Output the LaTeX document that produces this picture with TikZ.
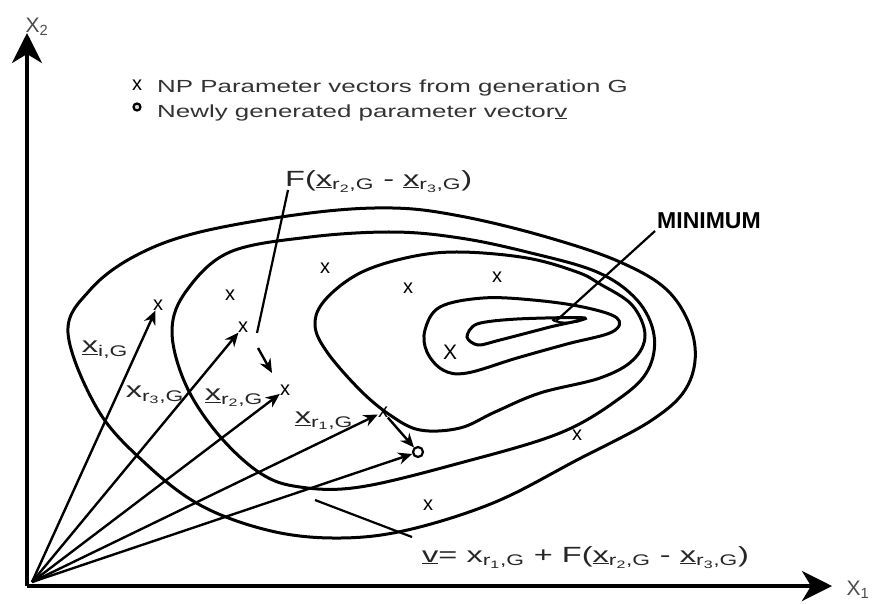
\documentclass[tikz,border=0pt]{standalone}
\usepackage{fontspec}
\setmainfont{Liberation Sans}
\usetikzlibrary{arrows.meta}

\newcommand{\wide}[1]{\scalebox{1.48}[1]{#1}}
\newcommand{\xr}[1]{x\textsubscript{r\textsubscript{#1},G}}
\newcommand{\uxr}[1]{\underline{x}\textsubscript{r\textsubscript{#1},G}}

\begin{document}
\begin{tikzpicture}[x=1pt,y=-1pt,
    axis/.style={line width=4pt,-{Stealth[length=30pt,width=30pt,inset=9pt]}},
    contour/.style={line width=3pt},
    vec/.style={line width=2.4pt,-{Stealth[length=14pt,width=12pt]}},
    lead/.style={line width=2.2pt},
    xmark/.style={inner sep=0pt,font=\fontsize{20}{20}\selectfont},
    newpt/.style={circle,draw,line width=2.2pt,inner sep=0pt,minimum size=10pt},
    lbl/.style={inner sep=0pt,text=black!85,font=\fontsize{22}{22}\selectfont},
    legend/.style={inner sep=0pt,anchor=base west,text=black!80,font=\fontsize{17.5}{18}\selectfont}
]
\useasboundingbox (0,0) rectangle (880,603);

%%% axes
\coordinate (corner) at (27,586);
\coordinate (top) at (27,33);
\coordinate (right) at (832,586);
\draw[axis] (corner) -- (top);
\draw[axis] (corner) -- (right);
\node[inner sep=0pt,text=black!70,font=\fontsize{21}{21}\selectfont] (ax2) at (37,27) {X\textsubscript{2}};
\node[inner sep=0pt,text=black!70,font=\fontsize{21}{21}\selectfont] (ax1) at (858,590) {X\textsubscript{1}};

%%% legend
\node[xmark] (legx) at (137,85) {x};
\node[legend] (leg1) at (157,92) {\wide{NP Parameter vectors from generation G}};
\node[newpt,minimum size=7pt,fill=black!15] (lego) at (137,107) {};
\node[legend] (leg2) at (157,117) {\wide{Newly generated parameter vector\underline{v}}};

%%% contour lines of the cost function
\draw[contour] plot[smooth cycle,tension=0.6] coordinates {
  (68,333) (90,290) (135,256) (200,232) (310,213) (393,208) (460,216)
  (543,236) (620,262) (670,293) (694,340) (688,385) (652,420) (577,460)
  (493,503) (403,531) (333,538) (267,530) (200,505) (145,463) (98,410)};
\draw[contour] plot[smooth cycle,tension=0.6] coordinates {
  (172,330) (187,290) (230,252) (310,237) (393,232) (460,238) (527,252)
  (597,272) (637,300) (654,335) (648,370) (620,398) (560,433) (460,463)
  (360,487) (300,487) (260,473) (217,433) (185,383)};
\draw[contour] plot[smooth cycle,tension=0.6] coordinates {
  (600,284) (577,272) (527,258) (460,252) (410,257) (360,273) (325,300)
  (315,325) (327,352) (360,390) (390,415) (420,430) (460,428) (495,412)
  (540,393) (600,378) (633,360) (645,335) (632,305)};
\draw[contour] plot[smooth cycle,tension=0.6] coordinates {
  (425,330) (440,307) (483,298) (533,300) (583,307) (617,318) (612,332)
  (567,344) (517,358) (467,373) (443,370) (427,352)};
\draw[contour] plot[smooth cycle,tension=0.5] coordinates {
  (467,337) (477,324) (517,319) (585,318) (550,327) (500,340) (478,345)};
\draw[line width=1.8pt] (567,320) ellipse (14 and 2.5);

%%% population members
\node[xmark] at (230,295) {x};
\node[xmark] at (325,268) {x};
\node[xmark] at (408,288) {x};
\node[xmark] at (497,277) {x};
\node[xmark,font=\fontsize{21}{21}\selectfont] at (450,352) {X};
\node[xmark] at (577,435) {x};
\node[xmark] at (428,505) {x};

%%% vectors
\coordinate (O) at (32,582);
\node[xmark] (xi)  at (158,305) {x};
\node[xmark] (xr3) at (243,327) {x};
\node[xmark] (xr2) at (285,390) {x};
\node[xmark] (xr1) at (383,412) {x};
\node[newpt] (v) at (418,452) {};
\draw[vec] (O) -- (xi);
\draw[vec] (O) -- (xr3);
\draw[vec] (O) -- (xr2);
\draw[vec] (O) -- (xr1);
\draw[vec] (O) -- (v);
\draw[vec] (xr1) -- (v);

% difference vector
\coordinate (d1) at (258,348);
\coordinate (d2) at (272,373);
\draw[vec] (d1) -- (d2);

%%% labels
\node[lbl] (lxi)  at (105,350) {\wide{\underline{x}\textsubscript{i,G}}};
\node[lbl] (lxr3) at (155,395) {\wide{\xr{3}}};
\node[lbl] (lxr2) at (234,398) {\wide{\uxr{2}}};
\node[lbl] (lxr1) at (324,421) {\wide{\uxr{1}}};

\node[lbl,anchor=base west] (Flbl) at (285,186) {\wide{F(\uxr{2} - \uxr{3})}};
\coordinate (fa) at (288,190);
\coordinate (fb) at (257,333);
\draw[lead] (fa) -- (fb);

\node[lbl,anchor=base west] (vlbl) at (422,562) {\wide{\underline{v}= \xr{1} + F(\uxr{2} - \uxr{3})}};
\coordinate (va) at (315,500);
\coordinate (vb) at (412,537);
\draw[lead] (va) -- (vb);

\node[inner sep=0pt,anchor=base west,font=\fontsize{23}{23}\selectfont\bfseries] (minlbl) at (657,228) {MINIMUM};
\coordinate (ma) at (655,231);
\coordinate (mb) at (556,321);
\draw[lead] (ma) -- (mb);
\end{tikzpicture}
\end{document}
